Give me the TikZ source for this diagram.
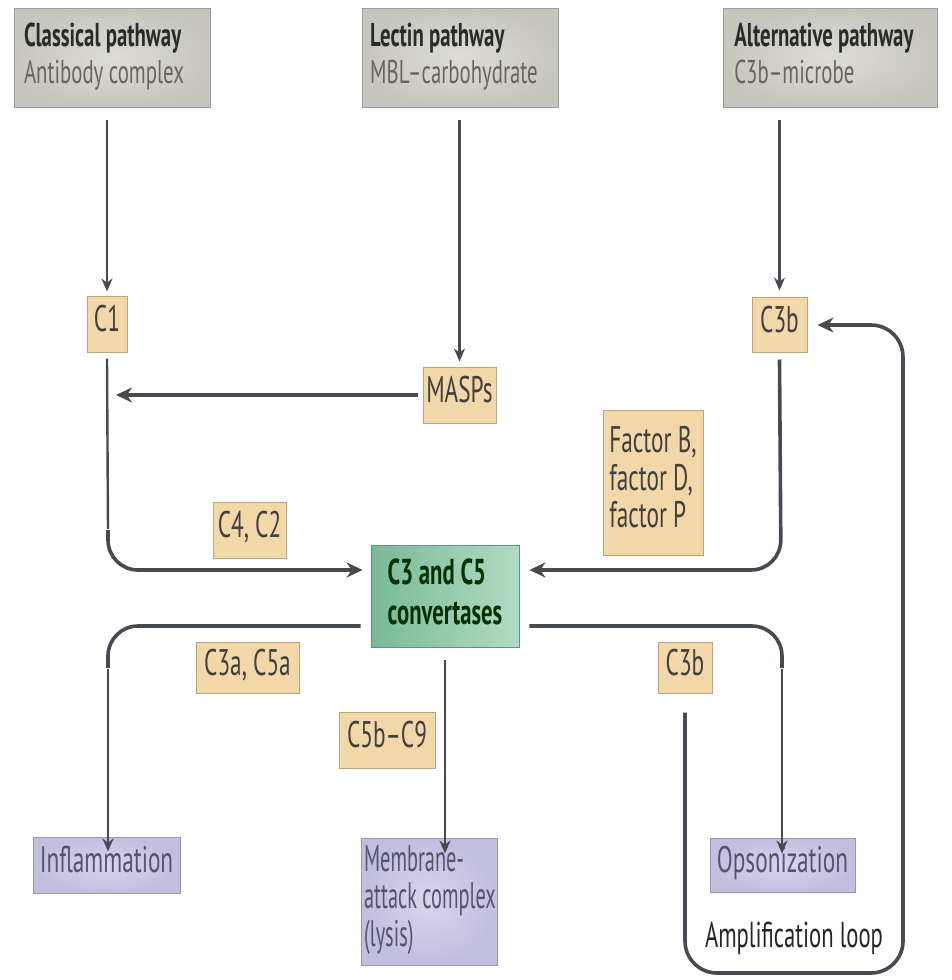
\documentclass[tikz,border=0pt]{standalone}
\usepackage{fontspec}
\usepackage{graphicx}
\setmainfont{PT Sans}
\usetikzlibrary{arrows.meta}
\definecolor{linec}{HTML}{464B51}
\definecolor{grayfill}{HTML}{C6C6BE}
\definecolor{graylight}{HTML}{DDDDD5}
\definecolor{tanfill}{HTML}{F2D8A8}
\definecolor{tanedge}{HTML}{BCA57E}
\definecolor{greenfill}{HTML}{78B998}
\definecolor{greenlight}{HTML}{B2DBC4}
\definecolor{purplefill}{HTML}{C2BEDE}
\definecolor{purplelight}{HTML}{D8D5EE}
\definecolor{purpleedge}{HTML}{9894BA}
\definecolor{purpletext}{HTML}{55536E}
\definecolor{txtdark}{HTML}{2A2A2A}
\definecolor{txtsub}{HTML}{66665F}
% narrow lettering: a left-aligned block squeezed horizontally
\newcommand\sqz[2][0.63]{\scalebox{#1}[1]{\begin{tabular}{@{}l@{}}#2\end{tabular}}}
\begin{document}
\begin{tikzpicture}[x=1pt,y=-1pt,
  pathbox/.style={draw=grayfill!80!black, line width=0.8pt, inner color=graylight, outer color=grayfill,
    inner sep=0pt, font=\fontsize{33}{37}\selectfont, text=txtdark},
  tanbox/.style={draw=tanedge, line width=1pt, fill=tanfill, inner sep=0pt,
    font=\fontsize{37}{37}\selectfont, text=black!75},
  convbox/.style={draw=greenfill!80!black, line width=0.8pt, left color=greenfill, right color=greenlight,
    inner sep=0pt, font=\bfseries\fontsize{36}{40}\selectfont, text=black!80!green},
  outbox/.style={draw=purpleedge, line width=1pt, inner color=purplelight, outer color=purplefill,
    inner sep=0pt, font=\fontsize{37}{37}\selectfont, text=purpletext},
  thinarrow/.style={draw=linec, line width=2.2pt, -{Stealth[length=13pt,width=11pt]}},
  thickarrow/.style={draw=linec, line width=3.6pt, -{Stealth[length=16pt,width=15pt]}},
  thickline/.style={draw=linec, line width=3.6pt},
  thinline/.style={draw=linec, line width=2.4pt},
]
\useasboundingbox[fill=white] (0,0) rectangle (951,980);

% pathway entry points
\node[pathbox, minimum width=196pt, minimum height=99pt] (classical) at (112,57.5)
  {\hspace*{-8pt}\sqz{\textbf{Classical pathway}\\\textcolor{txtsub}{Antibody complex}}\hspace*{8pt}};
\node[pathbox, minimum width=196pt, minimum height=99pt] (lectin) at (460,57.5)
  {\hspace*{-6pt}\sqz{\textbf{Lectin pathway}\\\textcolor{txtsub}{MBL–carbohydrate}}\hspace*{6pt}};
\node[pathbox, minimum width=214pt, minimum height=99pt] (alternative) at (830,57.5)
  {\hspace*{-6pt}\sqz{\textbf{Alternative pathway}\\\textcolor{txtsub}{C3b–microbe\hspace*{90pt}}}\hspace*{6pt}};

% early components
\node[tanbox, minimum width=40pt, minimum height=56pt] (c1) at (107,324) {\sqz{C1}};
\node[tanbox, minimum width=73pt, minimum height=56pt] (masps) at (459.5,395) {\sqz{MASPs}};
\node[tanbox, minimum width=55pt, minimum height=55pt] (c3btop) at (779.5,324.5) {\sqz{C3b}};
\node[tanbox, minimum width=100pt, minimum height=145pt] (factors) at (653,482.5)
  {\sqz{Factor B,\\factor D,\\factor P}};
\node[tanbox, minimum width=73pt, minimum height=56pt] (c4c2) at (249.5,530) {\sqz{C4, C2}};

% convertases
\node[convbox, minimum width=148pt, minimum height=102pt] (conv) at (445,596)
  {\sqz{C3 and C5\\convertases}};

% cleavage products
\node[tanbox, minimum width=103pt, minimum height=51pt] (c3ac5a) at (247.5,667.5) {\sqz{C3a, C5a}};
\node[tanbox, minimum width=96pt, minimum height=56pt] (c5bc9) at (387,740) {\sqz{C5b–C9}};
\node[tanbox, minimum width=54pt, minimum height=51pt] (c3blow) at (685,667.5) {\sqz{C3b}};

% outcomes
\node[outbox, minimum width=147pt, minimum height=56pt] (inflam) at (106.5,865) {\sqz{Inflammation}};
\node[outbox, minimum width=136pt, minimum height=127pt] (mac) at (429,901.5)
  {\hspace*{2pt}\sqz[0.55]{Membrane-\\attack complex\\(lysis)}};
\node[outbox, minimum width=145pt, minimum height=54pt] (opson) at (782.5,865) {\sqz{Opsonization}};
\node[inner sep=0pt, font=\fontsize{36}{37}\selectfont, text=black!85] (amplabel) at (794,940)
  {\sqz{Amplification loop}};

% junction points
\coordinate (c1line) at (108,395);
\coordinate (c1mid) at (108,530);
\coordinate (leftturn) at (108,570);
\coordinate (rightturn) at (781,570);
\coordinate (outleft) at (108,626);
\coordinate (leftdown) at (108,668);
\coordinate (outright) at (782,626);
\coordinate (rightdown) at (782,668);
\coordinate (loopbl) at (685,973);
\coordinate (loopbr) at (903,973);
\coordinate (looptr) at (903,325);

% pathway inputs
\draw[thinarrow] ([yshift=-13pt]classical.south -| c1.south) -- ([yshift=4pt]c1.north);
\draw[thinarrow] ([yshift=-13pt]lectin.south -| masps.north) -- ([yshift=5pt]masps.north);
\draw[thinarrow] ([yshift=-13pt]alternative.south -| c3btop.north) -- ([yshift=6pt]c3btop.north);

% MASPs feed into the classical route
\draw[thickarrow] ([xshift=-5pt]masps.west) -- ([xshift=8pt]c1line);

% routes into the convertases
\draw[thinline] ([yshift=-6pt]c1.south) -- ([yshift=1pt]c1mid);
\draw[thickline, -{Stealth[length=16pt,width=15pt]}, rounded corners=30pt]
  (c1mid) -- (leftturn) -- ([xshift=-8pt]conv.west |- leftturn);
\draw[thickline, -{Stealth[length=16pt,width=15pt]}, rounded corners=30pt]
  ([yshift=-7pt]c3btop.south) -- (rightturn) -- ([xshift=10pt]conv.east |- rightturn);

% products leaving the convertases
\draw[thickline, rounded corners=30pt]
  ([xshift=-10pt]conv.west |- outleft) -- (outleft) -- (leftdown);
\draw[thinarrow] ([yshift=-1pt]leftdown) -- ([yshift=-15pt]inflam.north -| leftdown);
\draw[thinarrow] ([yshift=-13pt]conv.south) -- ([yshift=-16pt]mac.north -| conv.south);
\draw[thickline, rounded corners=30pt]
  ([xshift=10pt]conv.east |- outright) -- (outright) -- (rightdown);
\draw[thinarrow] ([yshift=-1pt]rightdown) -- ([yshift=-16pt]opson.north -| rightdown);

% amplification loop back to C3b
\draw[thickline, -{Stealth[length=16pt,width=15pt]}, rounded corners=32pt]
  ([yshift=-19pt]c3blow.south) -- (loopbl) -- (loopbr) -- (looptr) -- ([xshift=10pt]c3btop.east |- looptr);
\end{tikzpicture}
\end{document}
